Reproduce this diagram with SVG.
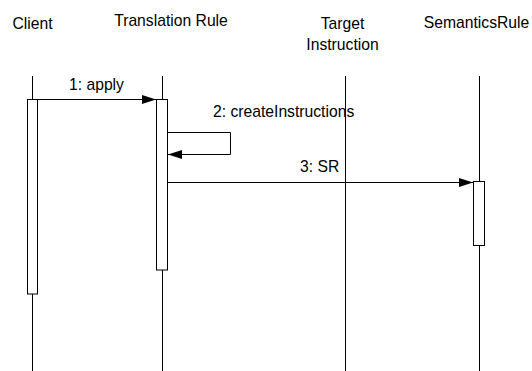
<svg xmlns="http://www.w3.org/2000/svg" width="532" height="371" viewBox="0 0 532 371">
  <style>
    .lbl { font-family: "Liberation Sans", Arial, sans-serif; font-size: 15.7px; fill: #000; }
    .life { stroke: #000; stroke-width: 1; fill: none; }
    .act { stroke: #000; stroke-width: 1; fill: #fff; }
    .msg { stroke: #000; stroke-width: 1; fill: none; }
  </style>
  <defs>
    <marker id="arrow" markerWidth="14" markerHeight="10" refX="14" refY="5" orient="auto" markerUnits="userSpaceOnUse">
      <path d="M0,0.5 L14,5 L0,9.5 Z" fill="#000"/>
    </marker>
  </defs>
  <rect width="532" height="371" fill="#fff"/>

  <!-- Participants: header, lifeline, activation bar -->
  <g id="client">
    <text class="lbl" x="32.5" y="29" text-anchor="middle">Client</text>
    <line class="life" x1="32.5" y1="76" x2="32.5" y2="371"/>
    <rect class="act" x="27.5" y="99.5" width="10" height="194.5"/>
  </g>
  <g id="translation-rule">
    <text class="lbl" x="171" y="26" text-anchor="middle">Translation Rule</text>
    <line class="life" x1="162.5" y1="76" x2="162.5" y2="371"/>
    <rect class="act" x="156.5" y="99.5" width="11" height="170.5"/>
  </g>
  <g id="target-instruction">
    <text class="lbl" x="342.5" y="29" text-anchor="middle">Target</text>
    <text class="lbl" x="342.5" y="50" text-anchor="middle">Instruction</text>
    <line class="life" x1="345.5" y1="76" x2="345.5" y2="371"/>
  </g>
  <g id="semantics-rule">
    <text class="lbl" x="476.5" y="28" text-anchor="middle">SemanticsRule</text>
    <line class="life" x1="479.5" y1="76" x2="479.5" y2="371"/>
    <rect class="act" x="473.5" y="181.5" width="11" height="64"/>
  </g>

  <!-- Messages -->
  <g id="connectors">
    <line class="msg" x1="37.5" y1="99.5" x2="156" y2="99.5" marker-end="url(#arrow)"/>
    <text class="lbl" x="69" y="89.5">1: apply</text>

    <polyline class="msg" points="167.5,132.5 230.5,132.5 230.5,154.5 168,154.5" marker-end="url(#arrow)"/>
    <text class="lbl" x="213" y="117">2: createInstructions</text>

    <line class="msg" x1="167.5" y1="182.5" x2="473" y2="182.5" marker-end="url(#arrow)"/>
    <text class="lbl" x="300" y="172">3: SR</text>
  </g>
</svg>
